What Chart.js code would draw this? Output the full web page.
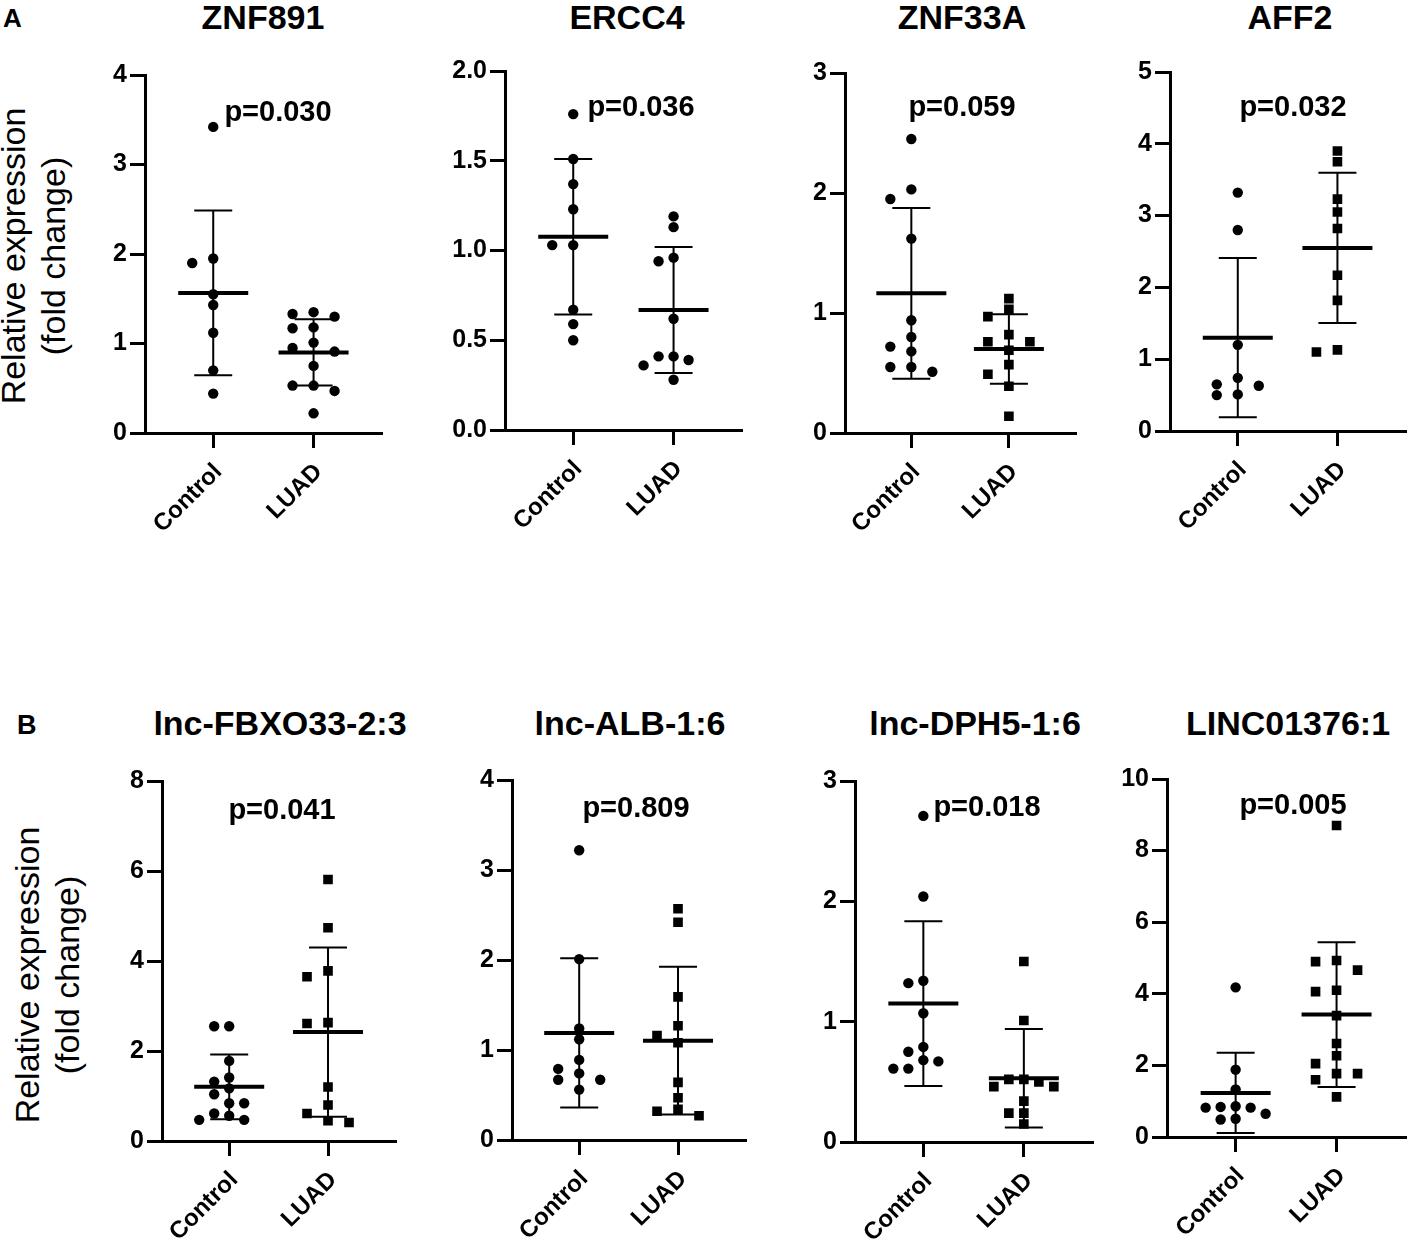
<!DOCTYPE html>
<html><head><meta charset="utf-8">
<script src="https://cdn.jsdelivr.net/npm/chart.js@4.4.1/dist/chart.umd.min.js"></script>
<style>
html,body{margin:0;padding:0;background:#fff;}
#wrap{position:relative;width:1413px;height:1245px;overflow:hidden;font-family:'Liberation Sans',Arial,sans-serif;color:#000;}
#wrap canvas{position:absolute;}
.t{position:absolute;white-space:nowrap;font-weight:bold;line-height:1;}
.yt{position:absolute;width:420px;height:80px;line-height:40px;font-size:34px;text-align:center;white-space:nowrap;transform:rotate(-90deg);transform-origin:50% 50%;}
</style></head><body><div id="wrap"></div>
<script>
// ---------------- data ----------------
const groups = ['Control', 'LUAD'];
const genes = ['ZNF891', 'ERCC4', 'ZNF33A', 'AFF2', 'lnc-FBXO33-2:3', 'lnc-ALB-1:6', 'lnc-DPH5-1:6', 'LINC01376:1'];
const pValues = ['p=0.030', 'p=0.036', 'p=0.059', 'p=0.032', 'p=0.041', 'p=0.809', 'p=0.018', 'p=0.005'];
const yTickLabels = [
  ['0', '1', '2', '3', '4'],
  ['0.0', '0.5', '1.0', '1.5', '2.0'],
  ['0', '1', '2', '3'],
  ['0', '1', '2', '3', '4', '5'],
  ['0', '2', '4', '6', '8'],
  ['0', '1', '2', '3', '4'],
  ['0', '1', '2', '3'],
  ['0', '2', '4', '6', '8', '10']
];
const controlValues = [
  [3.42, 1.90, 1.95, 1.55, 1.43, 1.12, 0.70, 0.44],
  [1.76, 1.51, 1.37, 1.23, 1.03, 1.03, 0.67, 0.59, 0.50],
  [2.45, 2.03, 1.95, 1.62, 0.94, 0.80, 0.72, 0.68, 0.55, 0.55, 0.51],
  [3.32, 2.80, 1.20, 0.74, 0.65, 0.63, 0.51, 0.50],
  [2.55, 2.55, 1.78, 1.41, 1.32, 1.17, 1.04, 0.84, 0.84, 0.61, 0.56, 0.47, 0.47],
  [3.22, 2.01, 1.24, 1.12, 0.89, 0.79, 0.74, 0.67, 0.67, 0.56],
  [2.71, 2.04, 1.34, 1.32, 1.07, 0.79, 0.75, 0.68, 0.67, 0.61, 0.61],
  [4.18, 1.88, 1.33, 0.86, 0.84, 0.82, 0.82, 0.65, 0.51, 0.49]
];
const luadValues = [
  [1.35, 1.33, 1.30, 1.18, 1.17, 1.01, 0.95, 0.91, 0.75, 0.53, 0.53, 0.47, 0.22],
  [1.19, 1.13, 0.96, 0.94, 0.62, 0.41, 0.41, 0.39, 0.36, 0.28],
  [1.12, 1.03, 0.97, 0.82, 0.76, 0.76, 0.69, 0.57, 0.49, 0.39, 0.14],
  [3.90, 3.75, 3.23, 3.05, 2.82, 2.17, 1.82, 1.13, 1.10],
  [5.81, 4.74, 3.78, 3.65, 2.63, 2.61, 1.20, 0.80, 0.61, 0.45, 0.41],
  [2.57, 2.42, 1.59, 1.27, 1.16, 1.08, 0.64, 0.47, 0.34, 0.32, 0.27],
  [1.50, 1.01, 0.52, 0.52, 0.50, 0.46, 0.46, 0.34, 0.24, 0.24, 0.15],
  [8.70, 4.93, 4.90, 4.66, 4.10, 4.06, 3.39, 2.61, 2.27, 2.05, 1.77, 1.77, 1.60, 1.12]
];
const controlMean = [1.565, 1.077, 1.164, 1.30, 1.205, 1.19, 1.15, 1.23];
const controlSD   = [0.92, 0.433, 0.712, 1.11, 0.72, 0.83, 0.685, 1.12];
const luadMean    = [0.90, 0.668, 0.70, 2.55, 2.42, 1.104, 0.53, 3.42];
const luadSD      = [0.37, 0.351, 0.29, 1.046, 1.88, 0.82, 0.41, 2.02];

// ---------------- layout & style (not data) ----------------
const panelBoxes = [
  {axisX: 145, top: 75, bottom: 433, right: 388},
  {axisX: 505, top: 71, bottom: 430, right: 748},
  {axisX: 845, top: 73, bottom: 433, right: 1083},
  {axisX: 1170, top: 72, bottom: 431, right: 1413},
  {axisX: 162, top: 781, bottom: 1141, right: 403},
  {axisX: 512, top: 780, bottom: 1140, right: 753},
  {axisX: 855, top: 781, bottom: 1142, right: 1100},
  {axisX: 1167, top: 779, bottom: 1137, right: 1413}
];
const luadMarker = ['circle', 'circle', 'rect', 'rect', 'rect', 'rect', 'rect', 'rect'];
const titlePos = [[263, 29], [627, 29], [962, 29], [1290, 29], [280, 735], [630, 735], [975, 735], [1288, 735]];
const pPos = [[278, 122], [641, 117], [962, 117], [1293, 117], [282, 820], [636, 818], [987, 817], [1293, 815]];
const Y_W = 60, PAD_T = 20, X_H = 110;

Chart.defaults.font.family = "'Liberation Sans', Arial, sans-serif";
Chart.defaults.font.weight = 700;

const wrap = document.getElementById('wrap');

function addText(txt, cx, baseline, size, bold, alignLeft) {
  const d = document.createElement('div');
  d.className = 't';
  d.textContent = txt;
  d.style.fontSize = size + 'px';
  d.style.fontWeight = bold ? 'bold' : 'normal';
  d.style.top = (baseline - 0.8465 * size) + 'px';
  d.style.left = cx + 'px';
  if (!alignLeft) d.style.transform = 'translateX(-50%)';
  wrap.appendChild(d);
}

function addYTitle(cx, cy) {
  const d = document.createElement('div');
  d.className = 'yt';
  d.innerHTML = 'Relative expression<br>(fold change)';
  d.style.left = (cx - 210) + 'px';
  d.style.top = (cy - 40) + 'px';
  wrap.appendChild(d);
}

// greedy beeswarm: horizontal pixel offsets computed from the values
function swarm(vals, yPix, maxHalf, diam) {
  let s = 21, res = [];
  for (let it = 0; it < 5; it++) {
    const order = vals.map((v, i) => i).sort((a, b) => vals[b] - vals[a]);
    const placed = [];
    res = new Array(vals.length);
    let maxK = 0;
    for (const i of order) {
      const py = yPix(vals[i]);
      for (let k = 0; k < 30; k++) {
        const slot = k === 0 ? 0 : (k % 2 ? -Math.ceil(k / 2) : Math.ceil(k / 2));
        const px = slot * s;
        if (placed.every(p => Math.hypot(p.x - px, p.y - py) >= diam)) {
          placed.push({x: px, y: py});
          res[i] = px;
          maxK = Math.max(maxK, Math.abs(slot));
          break;
        }
      }
    }
    if (maxK * s <= maxHalf + 0.01) break;
    s = maxHalf / maxK;
  }
  return res;
}

function meanSdPlugin(p) {
  return {
    id: 'meanSd' + p,
    afterDatasetsDraw(chart) {
      const ctx = chart.ctx, xs = chart.scales.x, ys = chart.scales.y;
      const stats = [[1, controlMean[p], controlSD[p]], [2, luadMean[p], luadSD[p]]];
      ctx.save();
      ctx.strokeStyle = '#000';
      ctx.lineCap = 'butt';
      for (const [cat, m, sd] of stats) {
        const x = xs.getPixelForValue(cat);
        const ym = ys.getPixelForValue(m);
        const yh = ys.getPixelForValue(m + sd);
        const yl = ys.getPixelForValue(m - sd);
        ctx.lineWidth = 2;
        ctx.beginPath();
        ctx.moveTo(x, yh); ctx.lineTo(x, yl);
        ctx.moveTo(x - 19, yh); ctx.lineTo(x + 19, yh);
        ctx.moveTo(x - 19, yl); ctx.lineTo(x + 19, yl);
        ctx.stroke();
        ctx.lineWidth = 4;
        ctx.beginPath();
        ctx.moveTo(x - 35, ym); ctx.lineTo(x + 35, ym);
        ctx.stroke();
      }
      ctx.restore();
    }
  };
}

for (let p = 0; p < 8; p++) {
  const b = panelBoxes[p];
  const cv = document.createElement('canvas');
  const w = Y_W + (b.right - b.axisX);
  const h = PAD_T + (b.bottom - b.top) + X_H;
  cv.width = w; cv.height = h;
  cv.style.left = (b.axisX - Y_W) + 'px';
  cv.style.top = (b.top - PAD_T) + 'px';
  wrap.appendChild(cv);

  const yVals = yTickLabels[p].map(Number);
  const isRect = luadMarker[p] === 'rect';

  const chart = new Chart(cv, {
    type: 'scatter',
    data: {
      datasets: [
        {label: groups[0], data: controlValues[p].map(v => ({x: 1, y: v})),
         pointStyle: 'circle', pointRadius: 5.2, backgroundColor: '#000', borderWidth: 0, pointHoverRadius: 5.2},
        {label: groups[1], data: luadValues[p].map(v => ({x: 2, y: v})),
         pointStyle: luadMarker[p], pointRadius: isRect ? 6.8 : 5.2, backgroundColor: '#000', borderWidth: 0, pointHoverRadius: isRect ? 6.8 : 5.2}
      ]
    },
    options: {
      responsive: false,
      animation: false,
      events: [],
      layout: {padding: {top: PAD_T, left: 0, right: 0, bottom: 0}},
      plugins: {legend: {display: false}, tooltip: {enabled: false}},
      scales: {
        x: {
          type: 'linear', min: 0.32, max: 2.69,
          afterBuildTicks: s => { s.ticks = groups.map((g, i) => ({value: i + 1})); },
          afterFit: s => { s.height = X_H; },
          grid: {display: true, drawOnChartArea: false, drawTicks: true, tickLength: 15, tickWidth: 3, tickColor: '#000', color: '#000'},
          border: {display: true, color: '#000', width: 3},
          ticks: {
            autoSkip: false, minRotation: 45, maxRotation: 45, padding: 10, labelOffset: 5,
            color: '#000', font: {size: 24, weight: 700},
            callback: v => groups[Math.round(v) - 1]
          }
        },
        y: {
          type: 'linear', min: 0, max: yVals[yVals.length - 1],
          afterBuildTicks: s => { s.ticks = yVals.map(v => ({value: v})); },
          afterFit: s => { s.width = Y_W; },
          grid: {display: true, drawOnChartArea: false, drawTicks: true, tickLength: 15, tickWidth: 3, tickColor: '#000', color: '#000'},
          border: {display: true, color: '#000', width: 3},
          ticks: {
            autoSkip: false, padding: 3, color: '#000',
            font: {size: 25, weight: 700},
            callback: (v, i) => yTickLabels[p][i]
          }
        }
      }
    },
    plugins: [meanSdPlugin(p)]
  });

  // spread overlapping points horizontally (beeswarm) using the chart's own scales
  const xs = chart.scales.x, ys = chart.scales.y;
  const pxPerX = xs.getPixelForValue(2) - xs.getPixelForValue(1);
  const yPix = v => ys.getPixelForValue(v);
  const offC = swarm(controlValues[p], yPix, 30, 10.5);
  const offL = swarm(luadValues[p], yPix, 30, 10.5);
  chart.data.datasets[0].data = controlValues[p].map((v, i) => ({x: 1 + offC[i] / pxPerX, y: v}));
  chart.data.datasets[1].data = luadValues[p].map((v, i) => ({x: 2 + offL[i] / pxPerX, y: v}));
  chart.update('none');

  addText(genes[p], titlePos[p][0], titlePos[p][1], 34, true);
  addText(pValues[p], pPos[p][0], pPos[p][1], 29, true);
}

addText('A', 3, 27, 26, true, true);
addText('B', 17, 735, 27, true, true);
addYTitle(33, 256);
addYTitle(47, 975);
</script>
</body></html>
